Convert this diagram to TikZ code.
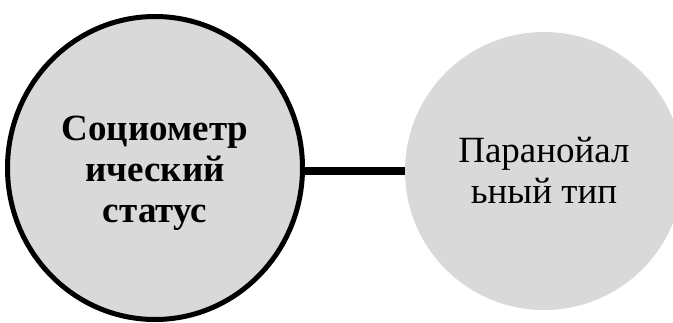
\documentclass[tikz,border=0pt]{standalone}
\usepackage{fontspec}
\setmainfont{Liberation Serif}
\usetikzlibrary{shapes.geometric}
\definecolor{bubblegray}{HTML}{D9D9D9}

\begin{document}
\begin{tikzpicture}[x=1pt,y=-1pt,
      bubble/.style={fill=bubblegray,inner sep=0pt},
      caption/.style={align=center,font=\fontsize{37}{41}\selectfont},
      link/.style={line width=8pt}]
    \useasboundingbox (0,0) rectangle (673,322);
    \node[bubble,ellipse,draw,line width=5pt,minimum width=295pt,
      minimum height=303pt] (status) at (155,168) {};
    \node[bubble,circle,minimum size=278pt] (type) at (544,171) {};
    \node[caption,font=\fontsize{37}{41}\selectfont\bfseries] (statustext)
      at (155,173) {Социометр\\ический\\статус};
    \node[caption] (typetext) at (544,170) {Паранойал\\ьный тип};
    \draw[link] (status.east |- type.west) -- (type.west);
  \end{tikzpicture}
\end{document}
